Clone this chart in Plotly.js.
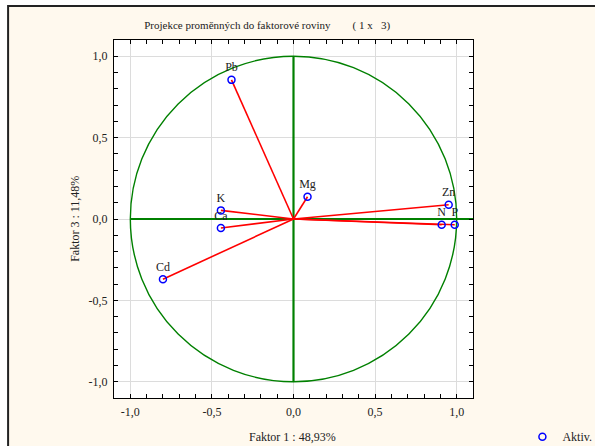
<!DOCTYPE html>
<html>
<head>
<meta charset="utf-8">
<script src="https://cdn.plot.ly/plotly-3.0.1.min.js"></script>
<style>html,body{margin:0;padding:0;background:#fff;}#chart{width:595px;height:446px;}</style>
</head>
<body>
<div id="chart"></div>
<script>
// Data
const variables = ["Pb", "Mg", "K", "Ca", "Cd", "Zn", "N", "P"];
const factor1 = [-0.38, 0.086, -0.445, -0.445, -0.80, 0.951, 0.908, 0.988];
const factor3 = [0.855, 0.137, 0.053, -0.055, -0.37, 0.088, -0.035, -0.035];
const tickVals = [-1.0, -0.5, 0.0, 0.5, 1.0];
const tickText = ["-1,0", "-0,5", "0,0", "0,5", "1,0"];
const titleText = "Projekce proměnných do faktorové roviny\u00a0\u00a0\u00a0\u00a0\u00a0\u00a0\u00a0\u00a0(\u00a01\u00a0x\u00a0\u00a0\u00a03)";
const xTitle = "Faktor 1 : 48,93%";
const yTitle = "Faktor 3 : 11,48%";
const legendName = "Aktiv.";

const serif = "Liberation Serif";

// red vectors from origin
const lx = [], ly = [];
for (let i = 0; i < variables.length; i++) {
  lx.push(0, factor1[i], null);
  ly.push(0, factor3[i], null);
}

const traces = [
  {
    x: lx, y: ly, mode: "lines", type: "scatter",
    line: {color: "#ff0000", width: 1.6},
    showlegend: false, hoverinfo: "skip"
  },
  {
    x: factor1, y: factor3, mode: "markers+text", type: "scatter",
    name: legendName,
    text: variables, textposition: "top center",
    textfont: {family: serif, size: 12, color: "#222"},
    marker: {symbol: "circle-open", size: 7, color: "#0000ff", line: {width: 1.5, color: "#0000ff"}},
    cliponaxis: false
  }
];

const axisCommon = {
  range: [-1.1, 1.1],
  tickmode: "array", tickvals: tickVals, ticktext: tickText,
  ticks: "inside", ticklen: 4, tickcolor: "#000", tickwidth: 1,
  minor: {dtick: 0.1, tick0: 0, ticks: "inside", ticklen: 4, tickcolor: "#000", showgrid: false},
  showgrid: true, gridcolor: "#dcdcdc", gridwidth: 1,
  zeroline: false,
  showline: true, linecolor: "#000", linewidth: 1, mirror: "allticks",
  tickfont: {family: serif, size: 12, color: "#222"},
  ticklabelstandoff: 3,
  fixedrange: true
};

const layout = {
  width: 595, height: 446,
  margin: {l: 114, r: 122, t: 40, b: 48},
  paper_bgcolor: "#fff9ee",
  plot_bgcolor: "#ffffff",
  font: {family: serif, size: 12, color: "#222"},
  showlegend: true,
  legend: {
    xref: "container", yref: "container",
    x: 0.878, y: 0.021, xanchor: "left", yanchor: "middle",
    bgcolor: "rgba(0,0,0,0)", borderwidth: 0,
    font: {family: serif, size: 12, color: "#222"}
  },
  title: {
    text: titleText,
    font: {family: serif, size: 11, color: "#222"},
    xref: "container", yref: "container",
    x: 0.449, y: 0.944, xanchor: "center", yanchor: "middle"
  },
  xaxis: Object.assign({}, axisCommon),
  yaxis: Object.assign({}, axisCommon),
  annotations: [
    {text: xTitle, xref: "paper", yref: "paper", x: 0.497, y: -0.109, showarrow: false,
     xanchor: "center", yanchor: "middle", font: {family: serif, size: 12, color: "#222"}},
    {text: yTitle, xref: "paper", yref: "paper", x: -0.109, y: 0.5, showarrow: false, textangle: -90,
     xanchor: "center", yanchor: "middle", font: {family: serif, size: 12, color: "#222"}}
  ],
  shapes: [
    {type: "circle", xref: "x", yref: "y", x0: -1, y0: -1, x1: 1, y1: 1,
     line: {color: "#008000", width: 1.4}, layer: "between"},
    {type: "line", xref: "x", yref: "y", x0: -1, y0: 0, x1: 1.1, y1: 0,
     line: {color: "#008000", width: 2.2}, layer: "between"},
    {type: "line", xref: "x", yref: "y", x0: 0, y0: -1, x1: 0, y1: 1,
     line: {color: "#008000", width: 2.2}, layer: "between"},
    // outer white strips and frame
    {type: "rect", xref: "paper", yref: "paper", x0: -0.4, x1: 1.5, y0: 1.098, y1: 1.2,
     fillcolor: "#ffffff", line: {width: 0}, layer: "above"},
    {type: "rect", xref: "paper", yref: "paper", x0: -0.4, x1: -0.296, y0: -0.2, y1: 1.2,
     fillcolor: "#ffffff", line: {width: 0}, layer: "above"},
    {type: "rect", xref: "paper", yref: "paper", x0: -0.295, x1: 1.4, y0: -0.2, y1: 1.095,
     line: {color: "#222", width: 2}, fillcolor: "rgba(0,0,0,0)", layer: "above"}
  ]
};

Plotly.newPlot("chart", traces, layout, {displayModeBar: false, staticPlot: true});
</script>
</body>
</html>
